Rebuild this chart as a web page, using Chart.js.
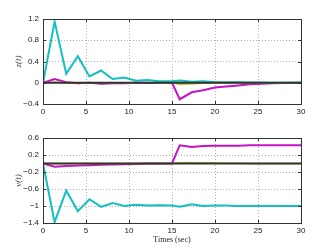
<!DOCTYPE html>
<html>
<head>
<meta charset="utf-8">
<script src="https://cdn.jsdelivr.net/npm/chart.js@4"></script>
<style>
  html, body { margin: 0; padding: 0; background: #fff; }
  .wrap { position: relative; width: 332px; height: 250px; }
  canvas { position: absolute; left: 0; }
</style>
</head>
<body>
<div class="wrap">
  <canvas id="zChart" width="332" height="125" style="top:0"></canvas>
  <canvas id="vChart" width="332" height="125" style="top:125px"></canvas>
</div>
<script>
// ---- data ----
const times = [0, 1.35, 2.7, 4.05, 5.4, 6.75, 8.1, 9.45, 10.8, 12.15, 13.5, 15, 15.9, 17.3, 18.6, 20, 21.3, 22.7, 24, 25.4, 26.7, 28.1, 30];

const zCyan    = [0, 1.15, 0.17, 0.5, 0.12, 0.23, 0.07, 0.1, 0.04, 0.05, 0.03, 0.03, 0.04, 0.02, 0.03, 0.01, 0.01, 0.01, 0.005, 0.005, 0, 0, 0];
const zMagenta = [0, 0.07, 0.01, -0.01, 0, -0.02, -0.01, -0.01, 0, -0.005, 0, 0, -0.31, -0.18, -0.14, -0.09, -0.07, -0.05, -0.03, -0.02, -0.01, -0.005, 0];
const zOlive   = [0, 0.01, 0, 0, 0, 0, 0, 0, 0, 0, 0, 0, -0.03, -0.02, -0.01, 0, 0, 0, 0, 0, 0, 0, 0];
const zBlack   = [0, 0, 0, 0, 0, 0, 0, 0, 0, 0, 0, 0, 0, 0, 0, 0, 0, 0, 0, 0, 0, 0, 0];

const vCyan    = [0, -1.38, -0.64, -1.12, -0.84, -1.02, -0.93, -1.0, -0.97, -0.99, -0.98, -0.99, -1.02, -0.96, -1.0, -0.99, -0.99, -1.0, -1.0, -1.0, -1.0, -1.0, -1.0];
const vMagenta = [0, -0.075, -0.06, -0.05, -0.04, -0.03, -0.025, -0.02, -0.01, 0, 0, 0, 0.43, 0.39, 0.41, 0.42, 0.42, 0.42, 0.43, 0.43, 0.43, 0.43, 0.43];
const vOlive   = [0, 0, 0, 0, 0, 0, 0, 0, 0, 0, 0, 0, 0.02, 0.02, 0.01, 0.01, 0.005, 0.005, 0, 0, 0, 0, 0];
const vBlack   = [0, 0, 0, 0, 0, 0, 0, 0, 0, 0, 0, 0, 0, 0, 0, 0, 0, 0, 0, 0, 0, 0, 0];

const xTicks = [0, 5, 10, 15, 20, 25, 30];
const zTicks = [-0.4, 0, 0.4, 0.8, 1.2];
const vTicks = [-1.4, -1, -0.6, -0.2, 0.2, 0.6];

const CYAN = '#14bfbf';
const MAGENTA = '#c414c4';
const OLIVE = '#b8bc10';
const BLACK = '#333333';

const tickFont = { family: "'Liberation Sans', Arial, sans-serif", size: 8 };
const serif = "'Liberation Serif', 'Times New Roman', serif";

function pts(values) {
    return times.map((t, i) => ({ x: t, y: values[i] }));
}

function line(values, color, width) {
    return {
        data: pts(values),
        borderColor: color,
        borderWidth: width,
        pointRadius: 0,
        tension: 0,
        fill: false
    };
}

// frame box + inward ticks, matlab style
const framePlugin = {
    id: 'frame',
    afterDraw(chart) {
        const { ctx, chartArea: a, scales } = chart;
        ctx.save();
        ctx.strokeStyle = BLACK;
        ctx.lineWidth = 1;
        ctx.beginPath();
        scales.x.ticks.forEach(t => {
            const px = Math.round(scales.x.getPixelForValue(t.value)) + 0.5;
            ctx.moveTo(px, a.bottom); ctx.lineTo(px, a.bottom - 3);
            ctx.moveTo(px, a.top); ctx.lineTo(px, a.top + 3);
        });
        scales.y.ticks.forEach(t => {
            const py = Math.round(scales.y.getPixelForValue(t.value)) + 0.5;
            ctx.moveTo(a.left, py); ctx.lineTo(a.left + 3, py);
            ctx.moveTo(a.right, py); ctx.lineTo(a.right - 3, py);
        });
        ctx.stroke();
        ctx.strokeRect(Math.round(a.left) + 0.5, Math.round(a.top) + 0.5,
            Math.round(a.right - a.left), Math.round(a.bottom - a.top));
        ctx.restore();
    }
};

function makeChart(id, series, yTicks, yMin, yMax, yLabel, padTop, xHeight, showXTitle) {
    const ctx = document.getElementById(id).getContext('2d');
    return new Chart(ctx, {
        type: 'line',
        data: {
            datasets: [
                line(series[3], BLACK, 2),
                line(series[2], OLIVE, 1.5),
                line(series[0], CYAN, 2),
                line(series[1], MAGENTA, 2)
            ]
        },
        options: {
            responsive: false,
            animation: false,
            devicePixelRatio: 1,
            layout: { padding: { top: padTop, right: 31, bottom: 0, left: 0 } },
            plugins: { legend: { display: false }, tooltip: { enabled: false } },
            scales: {
                x: {
                    type: 'linear',
                    min: 0,
                    max: 30,
                    afterBuildTicks: s => { s.ticks = xTicks.map(v => ({ value: v })); },
                    afterFit: s => { s.height = xHeight; },
                    ticks: { font: tickFont, color: '#222', padding: 3, maxRotation: 0 },
                    grid: { color: '#b0b0b0', lineWidth: 1, drawTicks: false },
                    border: { display: false, dash: [1, 2] },
                    title: {
                        display: showXTitle,
                        text: 'Times (sec)',
                        font: { family: serif, size: 8 },
                        color: '#222',
                        padding: { top: 2, bottom: 5 }
                    }
                },
                y: {
                    min: yMin,
                    max: yMax,
                    afterBuildTicks: s => { s.ticks = yTicks.map(v => ({ value: v })); },
                    afterFit: s => { s.width = 43; },
                    ticks: {
                        font: tickFont,
                        color: '#222',
                        padding: 4,
                        callback: v => (v < 0 ? '\u2212' : '') + String(Math.abs(Math.round(v * 10) / 10))
                    },
                    grid: { color: '#b0b0b0', lineWidth: 1, drawTicks: false },
                    border: { display: false, dash: [1, 2] },
                    title: {
                        display: true,
                        text: yLabel,
                        font: { family: serif, size: 9, style: 'italic' },
                        color: '#333',
                        padding: { top: 13, bottom: 0 }
                    }
                }
            }
        },
        plugins: [framePlugin]
    });
}

makeChart('zChart', [zCyan, zMagenta, zOlive, zBlack], zTicks, -0.4, 1.2, 'z(t)', 19, 21, false);
makeChart('vChart', [vCyan, vMagenta, vOlive, vBlack], vTicks, -1.4, 0.6, 'v(t)', 13, 27, true);
</script>
</body>
</html>
